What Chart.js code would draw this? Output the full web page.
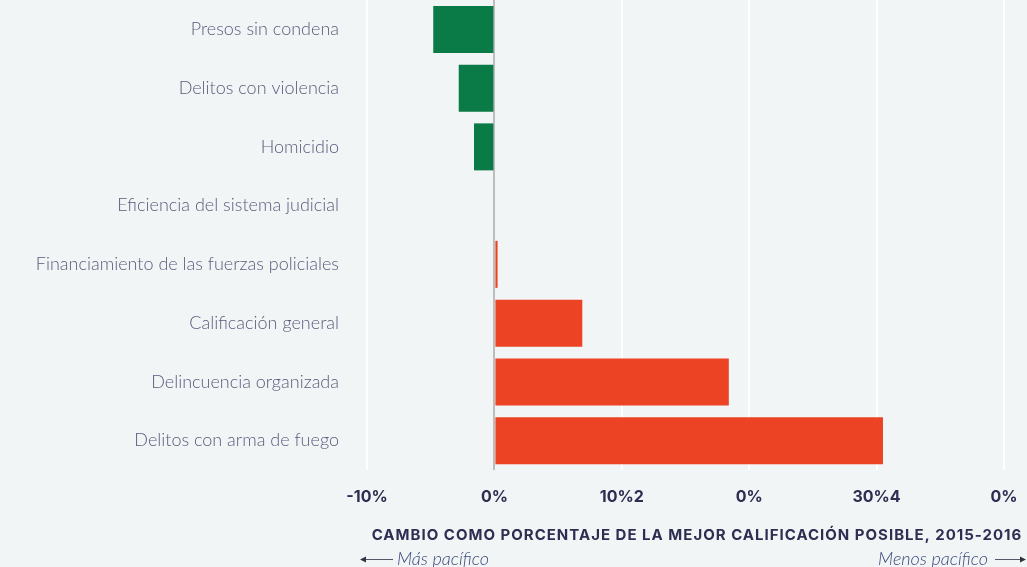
<!DOCTYPE html>
<html>
<head>
<meta charset="utf-8">
<script src="https://cdn.jsdelivr.net/npm/chart.js@4"></script>
<style>
  body { margin: 0; background: #f2f5f6; }
  #wrap { width: 1027px; height: 567px; position: relative; }
</style>
</head>
<body>
<div id="wrap"><canvas id="chart"></canvas></div>
<script>
// Categorías (de arriba hacia abajo)
const categorias = [
    'Presos sin condena',
    'Delitos con violencia',
    'Homicidio',
    'Eficiencia del sistema judicial',
    'Financiamiento de las fuerzas policiales',
    'Calificación general',
    'Delincuencia organizada',
    'Delitos con arma de fuego'
];
// Cambio en %
const valores = [-4.8, -2.8, -1.6, 0, 0.25, 6.9, 18.4, 30.5];
// Etiquetas del eje x tal como aparecen
const etiquetasX = ['-10%', '0%', '10%2', '0%', '30%4', '0%'];
const tituloX = 'CAMBIO COMO PORCENTAJE DE LA MEJOR CALIFICACIÓN POSIBLE, 2015-2016';
const textoIzq = 'Más pacífico';
const textoDer = 'Menos pacífico';

const VERDE = '#0a7a47';
const ROJO = '#eb4324';

// Plugin para el título del eje y las flechas
const pieEje = {
    id: 'pieEje',
    afterDraw(chart) {
        const ctx = chart.ctx;
        ctx.save();
        ctx.fillStyle = '#2e2e52';
        ctx.font = 'bold 15px "Inter", "Liberation Sans", sans-serif';
        ctx.letterSpacing = '1px';
        ctx.textAlign = 'center';
        ctx.textBaseline = 'middle';
        ctx.fillText(tituloX, 697, 535);
        ctx.letterSpacing = '0px';

        ctx.font = 'italic 300 18px "Lato", "Liberation Sans", sans-serif';
        ctx.fillStyle = '#3b4a7a';
        ctx.textAlign = 'left';
        ctx.fillText(textoIzq, 397, 559);
        ctx.textAlign = 'right';
        ctx.fillText(textoDer, 988, 559);

        ctx.strokeStyle = '#555566';
        ctx.fillStyle = '#333344';
        ctx.lineWidth = 1;
        // flecha izquierda
        ctx.beginPath();
        ctx.moveTo(363, 559.5);
        ctx.lineTo(393, 559.5);
        ctx.stroke();
        ctx.beginPath();
        ctx.moveTo(360, 559.5);
        ctx.lineTo(366, 556.5);
        ctx.lineTo(366, 562.5);
        ctx.closePath();
        ctx.fill();
        // flecha derecha
        ctx.beginPath();
        ctx.moveTo(995, 559.5);
        ctx.lineTo(1022, 559.5);
        ctx.stroke();
        ctx.beginPath();
        ctx.moveTo(1026, 559.5);
        ctx.lineTo(1020, 556.5);
        ctx.lineTo(1020, 562.5);
        ctx.closePath();
        ctx.fill();
        ctx.restore();
    }
};

const ctx = document.getElementById('chart').getContext('2d');
const grafico = new Chart(ctx, {
    type: 'bar',
    data: {
        labels: categorias,
        datasets: [{
            data: valores,
            backgroundColor: valores.map(v => v < 0 ? VERDE : ROJO),
            borderWidth: 0,
            barPercentage: 0.8,
            categoryPercentage: 1.0
        }]
    },
    options: {
        indexAxis: 'y',
        responsive: true,
        maintainAspectRatio: false,
        animation: false,
        layout: { padding: { top: 0, right: 23, left: 0, bottom: 0 } },
        plugins: {
            legend: { display: false },
            tooltip: { enabled: false }
        },
        scales: {
            x: {
                min: -10,
                max: 40,
                afterBuildTicks: scale => {
                    scale.ticks = [-10, 0, 10, 20, 30, 40].map(v => ({ value: v }));
                },
                afterFit: scale => {
                    scale.height = 97;
                    scale.paddingLeft = 0;
                    scale.paddingRight = 0;
                },
                grid: {
                    color: c => c.tick && c.tick.value === 0 ? '#bdbdbd' : '#ffffff',
                    lineWidth: 2,
                    drawTicks: false
                },
                border: { display: false },
                ticks: {
                    padding: 18,
                    color: '#2e2e52',
                    font: { family: '"Inter", "Liberation Sans", sans-serif', size: 16, weight: 'bold' },
                    callback: (v, i) => etiquetasX[i]
                }
            },
            y: {
                afterFit: scale => {
                    scale.width = 367;
                    scale.paddingTop = 0;
                    scale.paddingBottom = 0;
                },
                grid: { display: false, drawTicks: false },
                border: { display: false },
                ticks: {
                    padding: 28,
                    color: '#5b5b7b',
                    font: { family: '"Lato", "Liberation Sans", sans-serif', size: 18, weight: 300 }
                }
            }
        }
    },
    plugins: [pieEje]
});
</script>
</body>
</html>
